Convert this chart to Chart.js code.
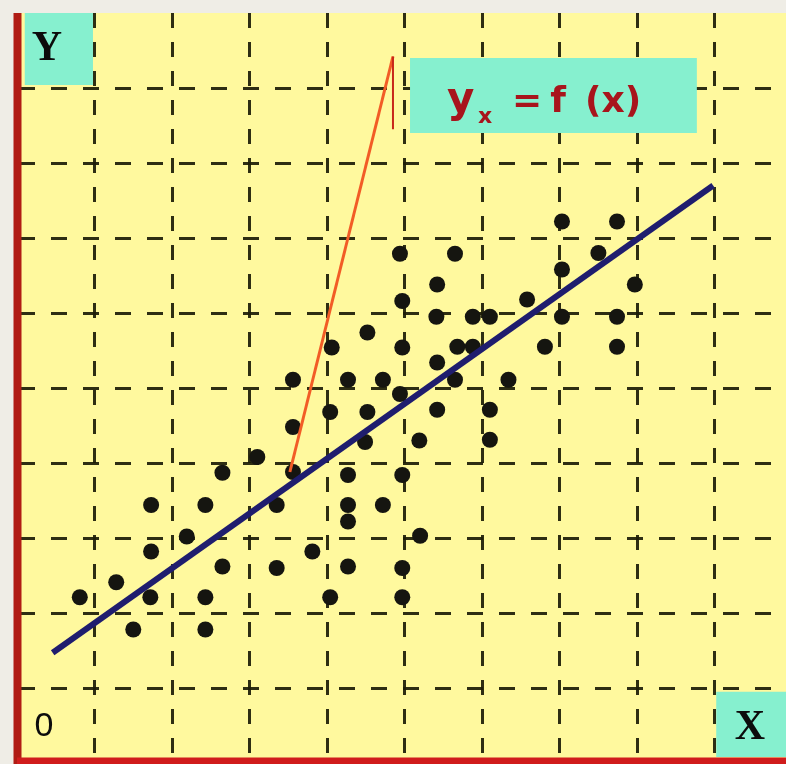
<!DOCTYPE html>
<html>
<head>
<meta charset="utf-8">
<title>Regression of y on x</title>
<script src="https://cdn.jsdelivr.net/npm/chart.js@4/dist/chart.umd.min.js"></script>
<style>
  html, body { margin: 0; padding: 0; background: #efede6; }
  #wrap { width: 786px; height: 764px; }
</style>
</head>
<body>
<div id="wrap"><canvas id="c" width="786" height="764"></canvas></div>
<script>
// Observations (x, y)
const obsX = [0.81, 1.28, 1.50, 1.72, 1.73, 1.73, 2.19, 2.43, 2.43, 2.43, 2.65, 2.65, 3.10, 3.35, 3.35,
              3.56, 3.56, 3.56, 3.81, 4.04, 4.04, 4.06, 4.27, 4.27, 4.27, 4.27, 4.27, 4.52, 4.49, 4.52,
              4.72, 4.72, 4.97, 4.97, 4.97, 4.94, 4.97, 4.97, 4.94, 5.20, 5.19, 5.42, 5.42, 5.41, 5.42,
              5.65, 5.68, 5.65, 5.88, 5.88, 6.10, 6.10, 6.10, 6.34, 6.58, 6.81, 7.03, 7.03, 7.03, 7.50,
              7.74, 7.74, 7.74, 7.97];
const obsY = [1.21, 1.41, 0.78, 1.21, 1.82, 2.44, 2.02, 2.44, 1.21, 0.78, 1.62, 2.87, 3.08, 2.44, 1.60,
              2.88, 3.48, 4.11, 1.82, 1.21, 3.68, 4.54, 1.62, 2.84, 2.44, 2.22, 4.11, 3.68, 3.28, 4.74,
              4.11, 2.44, 2.84, 1.60, 1.21, 3.92, 4.54, 5.16, 5.79, 2.03, 3.30, 3.71, 4.34, 4.95, 5.38,
              5.79, 4.55, 4.11, 4.55, 4.95, 4.95, 3.71, 3.31, 4.11, 5.18, 4.55, 4.95, 5.58, 6.22, 5.80,
              6.22, 4.95, 4.55, 5.38];

// Fitted regression line y_x = f(x)
const fitX = [0.46, 8.98];
const fitY = [0.47, 6.70];

// Pointer from an observation to the equation label
const pointerX = [3.52, 4.85, 4.85];
const pointerY = [2.88, 8.42, 7.45];

// Grid positions
const xGridTicks = [1, 2, 3, 4, 5, 6, 7, 8, 9];
const yGridTicks = [0, 1, 2, 3, 4, 5, 6, 7, 8];

const zip = (xs, ys) => xs.map((x, i) => ({ x: x, y: ys[i] }));

const CYAN = '#86f0cf';

// Paints the page, the plot face, the label boxes, the axes and the texts
const decor = {
  id: 'decor',
  beforeDraw(chart) {
    const { ctx, chartArea: a } = chart;
    ctx.save();
    ctx.fillStyle = '#efede6';
    ctx.fillRect(0, 0, chart.width, chart.height);
    ctx.fillStyle = '#fff99e';
    ctx.fillRect(a.left, a.top, a.right - a.left, a.bottom - a.top);
    ctx.restore();
  },
  beforeDatasetsDraw(chart) {
    const { ctx, scales: { x, y } } = chart;
    const box = (x0, x1, y0, y1) => {
      const l = x.getPixelForValue(x0), r = x.getPixelForValue(x1);
      const t = y.getPixelForValue(y1), b = y.getPixelForValue(y0);
      ctx.fillRect(l, t, r - l, b - t);
    };
    ctx.save();
    ctx.fillStyle = CYAN;
    box(0.10, 0.98, 8.04, 9.0);     // Y
    box(5.07, 8.77, 7.40, 8.40);    // equation
    box(9.02, 9.92, -0.92, -0.05);  // X
    ctx.restore();
  },
  afterDraw(chart) {
    const { ctx, chartArea: a } = chart;
    ctx.save();
    // axes
    ctx.strokeStyle = '#b01c14';
    ctx.lineWidth = 8;
    ctx.beginPath();
    ctx.moveTo(a.left + 0.5, a.top);
    ctx.lineTo(a.left + 0.5, chart.height);
    ctx.stroke();
    ctx.strokeStyle = '#d01c1c';
    ctx.lineWidth = 7;
    ctx.beginPath();
    ctx.moveTo(a.left, a.bottom + 1);
    ctx.lineTo(a.right, a.bottom + 1);
    ctx.stroke();

    // axis names
    ctx.fillStyle = '#0c0c0c';
    ctx.textAlign = 'center';
    ctx.textBaseline = 'alphabetic';
    ctx.font = 'bold 42px "Liberation Serif"';
    ctx.fillText('Y', 47, 60);
    ctx.fillText('X', 750, 739);
    ctx.font = '34px "Liberation Sans"';
    ctx.fillText('0', 44, 736);

    // equation
    ctx.fillStyle = '#a8141c';
    ctx.textAlign = 'left';
    ctx.font = 'bold 42px "DejaVu Sans"';
    ctx.fillText('y', 447, 112);
    ctx.font = 'bold 22px "DejaVu Sans"';
    ctx.fillText('x', 478, 123);
    ctx.font = 'bold 36px "DejaVu Sans"';
    ctx.textAlign = 'center';
    ctx.fillText('=', 527, 112);
    ctx.fillText('f', 558, 112);
    ctx.textAlign = 'left';
    ctx.fillText('(x)', 585, 112);
    ctx.restore();
  }
};

const gridStyle = { color: 'rgba(28,28,8,0.92)', lineWidth: 3, drawTicks: false };

new Chart(document.getElementById('c'), {
  type: 'scatter',
  data: {
    datasets: [
      {
        label: 'observations',
        data: zip(obsX, obsY),
        pointRadius: 8,
        pointHoverRadius: 8,
        backgroundColor: '#151510',
        borderWidth: 0,
        order: 3
      },
      {
        label: 'y_x = f(x)',
        type: 'line',
        data: zip(fitX, fitY),
        borderColor: '#1f1d6e',
        borderWidth: 6,
        pointRadius: 0,
        fill: false,
        tension: 0,
        order: 2
      },
      {
        label: 'pointer',
        type: 'line',
        data: zip(pointerX, pointerY),
        borderColor: '#f25c26',
        borderWidth: 3,
        pointRadius: 0,
        fill: false,
        tension: 0,
        segment: {
          borderColor: c => (c.p0DataIndex === 1 ? '#c8281a' : undefined),
          borderWidth: c => (c.p0DataIndex === 1 ? 2 : undefined)
        },
        order: 1
      }
    ]
  },
  options: {
    responsive: false,
    animation: false,
    devicePixelRatio: 1,
    layout: { autoPadding: false, padding: { left: 17, top: 13, right: 0, bottom: 4 } },
    plugins: { legend: { display: false }, tooltip: { enabled: false } },
    events: [],
    scales: {
      x: {
        type: 'linear',
        min: 0,
        max: 9.92,
        afterBuildTicks: s => { s.ticks = xGridTicks.map(v => ({ value: v })); },
        afterFit: s => { s.height = 0; },
        ticks: { display: false },
        grid: gridStyle,
        border: { display: false, dash: [15, 14] }
      },
      y: {
        type: 'linear',
        min: -0.96,
        max: 9.0,
        afterBuildTicks: s => { s.ticks = yGridTicks.map(v => ({ value: v })); },
        afterFit: s => { s.width = 0; },
        ticks: { display: false },
        grid: gridStyle,
        border: { display: false, dash: [16, 16], dashOffset: -2 }
      }
    }
  },
  plugins: [decor]
});
</script>
</body>
</html>
